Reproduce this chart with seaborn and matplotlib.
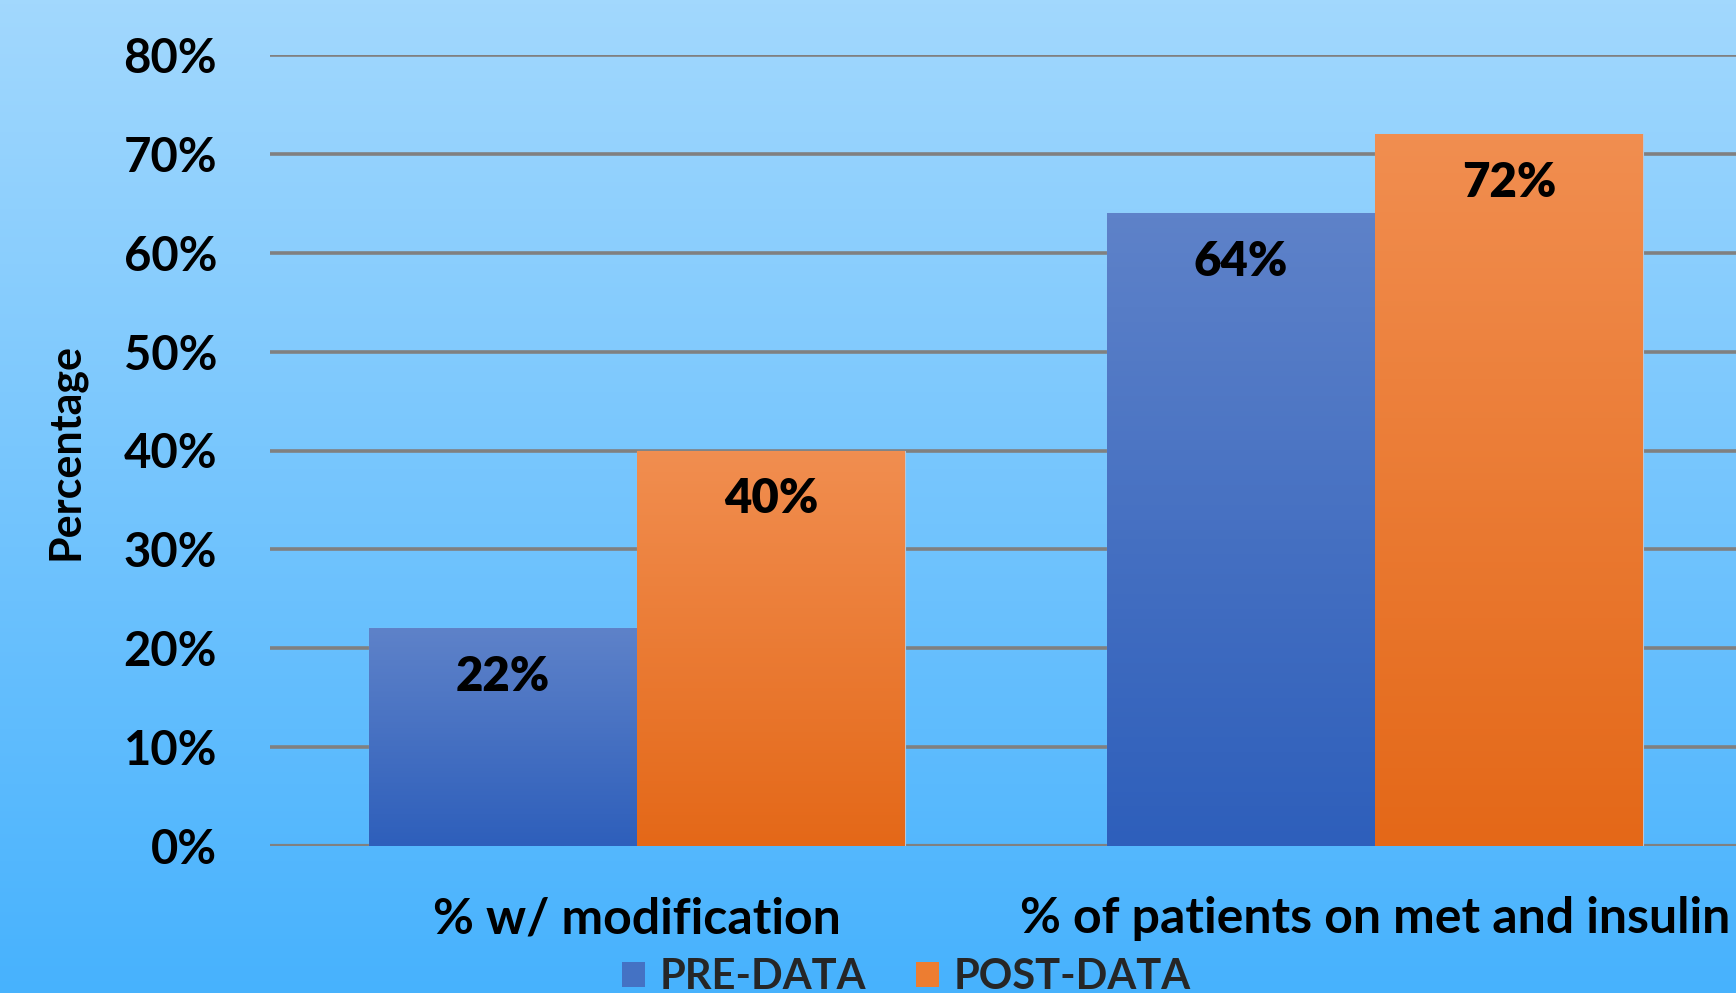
import numpy as np
import pandas as pd
import matplotlib
matplotlib.use("Agg")
import matplotlib.pyplot as plt
from matplotlib.colors import LinearSegmentedColormap
from matplotlib.ticker import PercentFormatter
from matplotlib.patches import Patch
import seaborn as sns

# ---- data ----
categories = ["% w/ modification", "% of patients on met and insulin"]
series_names = ["PRE-DATA", "POST-DATA"]
pre_values = [0.22, 0.64]
post_values = [0.40, 0.72]
y_ticks = [0.0, 0.1, 0.2, 0.3, 0.4, 0.5, 0.6, 0.7, 0.8]

df = pd.DataFrame({
    "category": categories * 2,
    "series": [series_names[0]] * 2 + [series_names[1]] * 2,
    "value": pre_values + post_values,
})

# ---- styling ----
sns.set_theme(style="white")
plt.rcParams["font.family"] = ["Lato", "DejaVu Sans"]
plt.rcParams["font.weight"] = "bold"

bar_top = {"PRE-DATA": "#5e82c9", "POST-DATA": "#f18e50"}
bar_bottom = {"PRE-DATA": "#2e5fbb", "POST-DATA": "#e46818"}
bar_mid = {"PRE-DATA": "#4472c4", "POST-DATA": "#ed7d31"}

W, H = 1736, 993
fig = plt.figure(figsize=(W / 100, H / 100), dpi=100)

# page background gradient
bg = fig.add_axes([0, 0, 1, 1], zorder=-10)
bg_cmap = LinearSegmentedColormap.from_list("bg", ["#47b2fd", "#a2d8fd"])
bg.imshow(np.linspace(0, 1, 256)[:, None], aspect="auto", cmap=bg_cmap,
          origin="lower", extent=[0, 1, 0, 1])
bg.set_axis_off()

ax = fig.add_axes([270 / W, 1 - 846 / H, (1742 - 270) / W, (846 - 55) / H])
ax.set_facecolor("none")

sns.barplot(data=df, x="category", y="value", hue="series",
            order=categories, hue_order=series_names,
            palette=bar_mid, width=0.726, gap=0, ax=ax,
            edgecolor="#b9c6d6", linewidth=0.8, zorder=3)

# vertical gradient fill clipped to each bar
for container, name in zip(ax.containers, series_names):
    cmap = LinearSegmentedColormap.from_list(name, [bar_bottom[name], bar_top[name]])
    for patch in container.patches:
        x0, y0 = patch.get_x(), patch.get_y()
        w, h = patch.get_width(), patch.get_height()
        im = ax.imshow(np.linspace(0, 1, 128)[:, None], cmap=cmap, origin="lower",
                       aspect="auto", extent=[x0, x0 + w, y0, y0 + h], zorder=3.5)
        im.set_clip_path(patch)

# value labels just inside the bar tops
for container in ax.containers:
    for patch in container.patches:
        v = patch.get_height()
        ax.annotate(f"{v * 100:.0f}%", xy=(patch.get_x() + patch.get_width() / 2, v),
                    xytext=(0, -35), textcoords="offset points",
                    ha="center", va="center", fontsize=34, fontweight="heavy",
                    color="black", zorder=5)

ax.set_xlim(-0.497, 1.497)
ax.set_ylim(0, 0.8)
ax.set_yticks(y_ticks)
ax.yaxis.set_major_formatter(PercentFormatter(1.0, decimals=0))
ax.grid(axis="y", color="#808080", linewidth=2.6, zorder=0)
ax.grid(axis="x", visible=False)
ax.set_axisbelow(True)
for s in ax.spines.values():
    s.set_visible(False)
ax.axhline(0, color="#808080", linewidth=3.0, zorder=2)

ax.tick_params(axis="y", length=0, pad=38, labelsize=34)
ax.tick_params(axis="x", length=0, pad=36, labelsize=36)
for lab in ax.get_yticklabels() + ax.get_xticklabels():
    lab.set_fontweight("bold")
    lab.set_color("black")

ax.set_xlabel("")
ax.set_ylabel("Percentage", fontsize=31, fontweight="bold", color="black")
ax.yaxis.set_label_coords((85 - 270) / (1742 - 270), (846 - 451) / (846 - 55))

# legend
leg = ax.get_legend()
if leg is not None:
    leg.remove()
handles = [Patch(facecolor=bar_mid[n], edgecolor="none") for n in series_names]
fig.legend(handles, series_names, loc="center", bbox_to_anchor=(906 / W, 1 - 977 / H),
           ncol=2, frameon=False, handlelength=0.55, handleheight=0.55,
           handletextpad=0.35, columnspacing=1.2, prop={"weight": "bold", "size": 30})

fig.savefig("out.png", dpi=100)
